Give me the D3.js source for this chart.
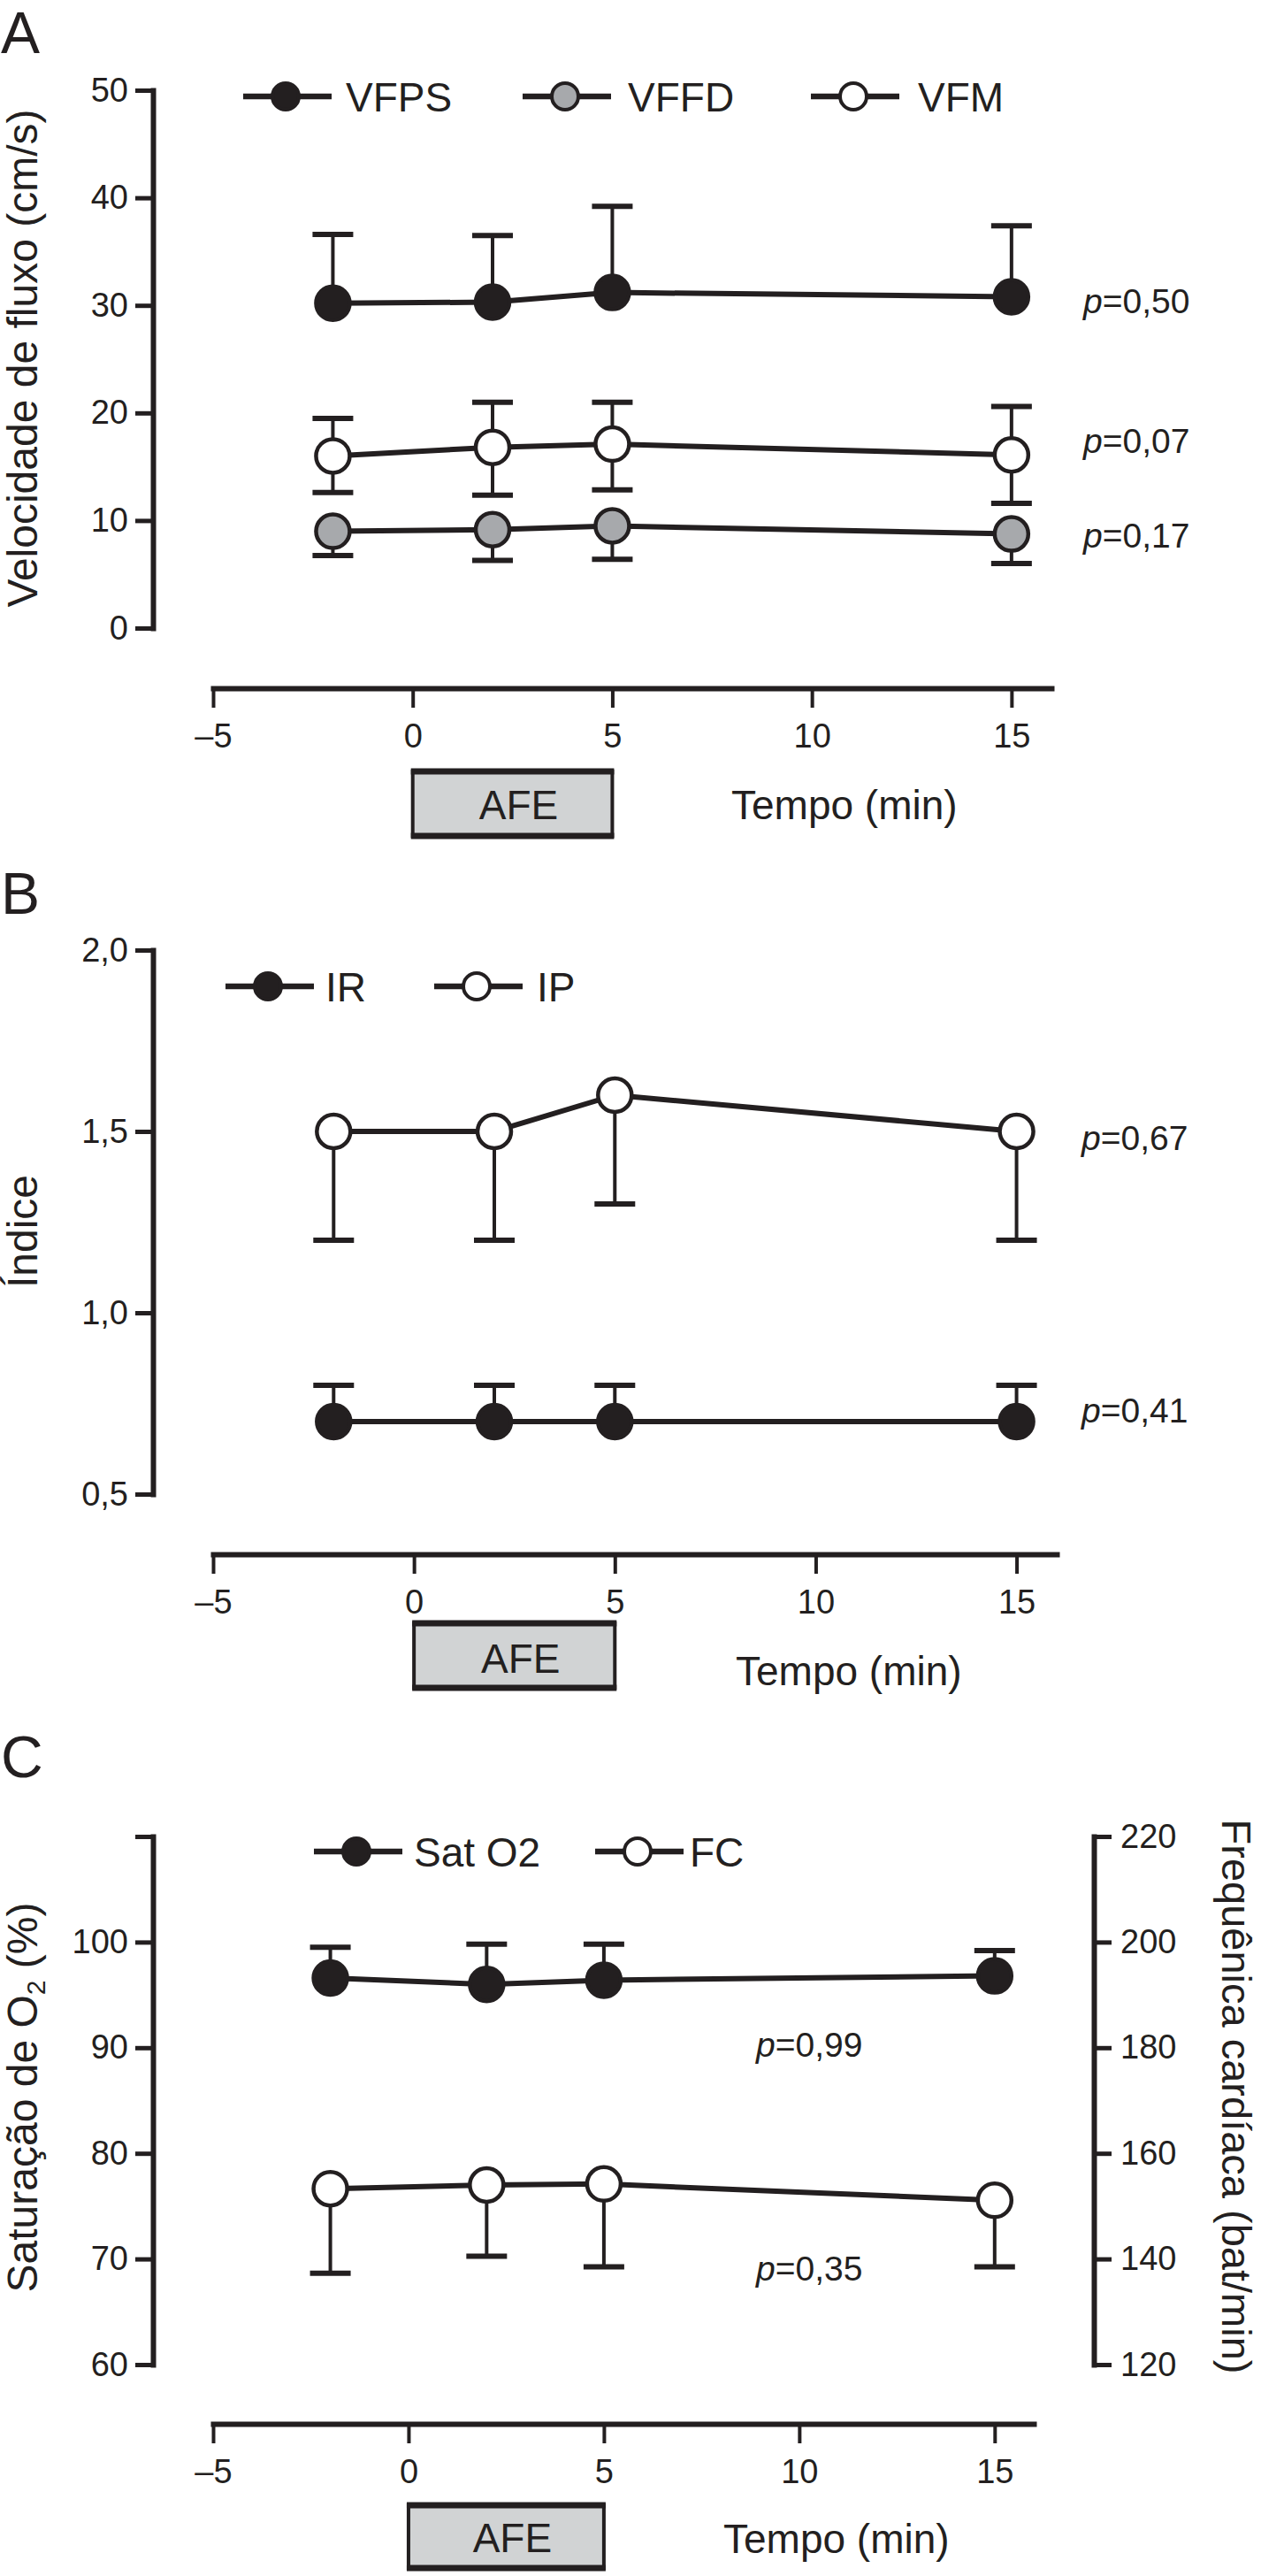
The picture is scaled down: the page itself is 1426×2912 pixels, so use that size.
<!DOCTYPE html>
<html>
<head>
<meta charset="utf-8">
<script src="https://cdn.jsdelivr.net/npm/d3@7/dist/d3.min.js"></script>
<style>
  html, body { margin: 0; padding: 0; background: #fff; }
  svg { display: block; }
  text { font-family: "Liberation Sans", Arial, Helvetica, sans-serif; fill: #231f20; }
</style>
</head>
<body>
<svg id="chart" width="1426" height="2912"></svg>
<script>
// ---------------- DATA ----------------
const times = [-2, 2, 5, 15];
const xTicks = [-5, 0, 5, 10, 15];

// Panel A: flow velocities (cm/s)
const vfps = [30.2, 30.3, 31.2, 30.8];
const vfpsUpper = [36.6, 36.5, 39.2, 37.4];
const vfm = [16.0, 16.8, 17.1, 16.1];
const vfmUpper = [19.5, 21.0, 21.0, 20.6];
const vfmLower = [12.6, 12.35, 12.85, 11.6];
const vffd = [9.0, 9.15, 9.5, 8.75];
const vffdLower = [6.75, 6.3, 6.4, 6.0];
const yTicksA = [0, 10, 20, 30, 40, 50];
const pValuesA = ["0,50", "0,07", "0,17"];

// Panel B: indices
const ip = [1.50, 1.50, 1.60, 1.50];
const ipLower = [1.20, 1.20, 1.30, 1.20];
const ir = [0.70, 0.70, 0.70, 0.70];
const irUpper = [0.80, 0.80, 0.80, 0.80];
const yTicksB = [0.5, 1.0, 1.5, 2.0];
const pValuesB = ["0,67", "0,41"];

// Panel C: O2 saturation (%) and heart rate (bat/min)
const satO2 = [96.6, 96.0, 96.4, 96.8];
const satO2Upper = [99.5, 99.8, 99.8, 99.2];
const fc = [153.3, 154.0, 154.2, 151.1];
const fcLower = [137.3, 140.5, 138.5, 138.5];
const yTicksCL = [60, 70, 80, 90, 100, 110];
const yTicksCR = [120, 140, 160, 180, 200, 220];
const pValuesC = ["0,99", "0,35"];

// ---------------- HELPERS ----------------
const INK = "#231f20";
const GRAY = "#a7a9ac";
const BOXFILL = "#d1d3d4";
const svg = d3.select("#chart");
const br = d3.formatLocale({decimal: ",", thousands: ".", grouping: [3], currency: ["R$", ""]});
const fmt1 = br.format(".1f");

function styleAxis(g, fontSize) {
  g.select(".domain").attr("stroke", INK).attr("stroke-width", 6).attr("stroke-linecap", "square");
  g.selectAll(".tick line").attr("stroke", INK).attr("stroke-width", 5);
  g.selectAll(".tick text").attr("font-size", fontSize).attr("fill", INK)
    .style("font-family", '"Liberation Sans", Arial, sans-serif');
}

function xAxis(x, yPos) {
  const g = svg.append("g").attr("transform", `translate(0,${yPos})`)
    .call(d3.axisBottom(x).tickValues(xTicks).tickSize(22).tickSizeOuter(0).tickPadding(18)
      .tickFormat(d => d < 0 ? "\u2013" + Math.abs(d) : String(d)));
  styleAxis(g, 38);
  g.selectAll(".tick line").attr("stroke-width", 4);
}

function yAxisLeft(y, xPos, ticks, format) {
  const g = svg.append("g").attr("transform", `translate(${xPos},0)`)
    .call(d3.axisLeft(y).tickValues(ticks).tickSize(20).tickSizeOuter(0).tickPadding(8).tickFormat(format));
  styleAxis(g, 38);
}

function yAxisRight(y, xPos, ticks, format) {
  const g = svg.append("g").attr("transform", `translate(${xPos},0)`)
    .call(d3.axisRight(y).tickValues(ticks).tickSize(20).tickSizeOuter(0).tickPadding(10).tickFormat(format));
  styleAxis(g, 38);
}

function errorBars(x, y, vals, ends) {
  const g = svg.append("g");
  times.forEach((t, i) => {
    g.append("line").attr("x1", x(t)).attr("x2", x(t)).attr("y1", y(vals[i])).attr("y2", y(ends[i]))
      .attr("stroke", INK).attr("stroke-width", 4);
    g.append("line").attr("x1", x(t) - 23).attr("x2", x(t) + 23).attr("y1", y(ends[i])).attr("y2", y(ends[i]))
      .attr("stroke", INK).attr("stroke-width", 6);
  });
}

function series(x, y, vals, fill) {
  const line = d3.line().x((d, i) => x(times[i])).y(d => y(d));
  svg.append("path").datum(vals).attr("d", line).attr("fill", "none")
    .attr("stroke", INK).attr("stroke-width", 6).attr("stroke-linejoin", "round");
  svg.append("g").selectAll("circle").data(vals).join("circle")
    .attr("cx", (d, i) => x(times[i])).attr("cy", d => y(d)).attr("r", 19)
    .attr("fill", fill).attr("stroke", INK).attr("stroke-width", 4.5);
}

function legendItem(x0, yRow, fill, label, textX, fontSize) {
  svg.append("line").attr("x1", x0).attr("x2", x0 + 100).attr("y1", yRow).attr("y2", yRow)
    .attr("stroke", INK).attr("stroke-width", 6.5);
  svg.append("circle").attr("cx", x0 + 48).attr("cy", yRow).attr("r", 15)
    .attr("fill", fill).attr("stroke", INK).attr("stroke-width", 4);
  svg.append("text").attr("x", textX).attr("y", yRow).attr("dy", "0.36em")
    .attr("font-size", fontSize).text(label);
}

function pLabel(xPos, yPos, value, fontSize) {
  const t = svg.append("text").attr("x", xPos).attr("y", yPos).attr("font-size", fontSize);
  t.append("tspan").attr("font-style", "italic").text("p");
  t.append("tspan").text("=" + value);
}

function afeBox(x, top, bottom, textBase, tempoX, tempoBase) {
  const x0 = x(0), x1 = x(5);
  svg.append("rect").attr("x", x0).attr("y", top).attr("width", x1 - x0).attr("height", bottom - top)
    .attr("fill", BOXFILL).attr("stroke", INK).attr("stroke-width", 4);
  [top, bottom].forEach(yy => svg.append("line").attr("x1", x0 - 2).attr("x2", x1 + 2).attr("y1", yy).attr("y2", yy)
    .attr("stroke", INK).attr("stroke-width", 7));
  svg.append("text").attr("x", (x0 + x1) / 2 + 7).attr("y", textBase).attr("text-anchor", "middle")
    .attr("font-size", 46).text("AFE");
  svg.append("text").attr("x", tempoX).attr("y", tempoBase).attr("font-size", 46).text("Tempo (min)");
}

function panelLetter(letter, yBase) {
  svg.append("text").attr("x", 1).attr("y", yBase).attr("font-size", 66).text(letter);
}

function rotLabel(xPos, yPos, angle, build, size) {
  const t = svg.append("text").attr("transform", `translate(${xPos},${yPos}) rotate(${angle})`)
    .attr("text-anchor", "middle").attr("font-size", size || 48);
  build(t);
}

// ---------------- PANEL A ----------------
const xA = d3.scaleLinear().domain([-5, 16]).range([241, 1189]);
const yA = d3.scaleLinear().domain([0, 50]).range([710, 102]);
panelLetter("A", 60);
yAxisLeft(yA, 173, yTicksA, d3.format("d"));
xAxis(xA, 778);
rotLabel(42, 405, -90, t => t.text("Velocidade de fluxo (cm/s)"));

errorBars(xA, yA, vfps, vfpsUpper);
errorBars(xA, yA, vfm, vfmUpper);
errorBars(xA, yA, vfm, vfmLower);
errorBars(xA, yA, vffd, vffdLower);
series(xA, yA, vfps, INK);
series(xA, yA, vfm, "#fff");
series(xA, yA, vffd, GRAY);

legendItem(275, 109, INK, "VFPS", 391, 46);
legendItem(591, 109, GRAY, "VFFD", 710, 46);
legendItem(917, 109, "#fff", "VFM", 1038, 46);

pLabel(1225, 354, pValuesA[0], 39);
pLabel(1225, 512, pValuesA[1], 39);
pLabel(1225, 619, pValuesA[2], 39);
afeBox(xA, 872, 945, 926, 827, 926);

// ---------------- PANEL B ----------------
const xB = d3.scaleLinear().domain([-5, 16]).range([241, 1195]);
const yB = d3.scaleLinear().domain([0.5, 2.0]).range([1689, 1074]);
panelLetter("B", 1033);
yAxisLeft(yB, 173, yTicksB, fmt1);
xAxis(xB, 1757);
rotLabel(42, 1392, -90, t => t.text("Índice"));

errorBars(xB, yB, ip, ipLower);
errorBars(xB, yB, ir, irUpper);
series(xB, yB, ip, "#fff");
series(xB, yB, ir, INK);

legendItem(255, 1115, INK, "IR", 368, 46);
legendItem(491, 1115, "#fff", "IP", 607, 46);

pLabel(1223, 1300, pValuesB[0], 39);
pLabel(1223, 1608, pValuesB[1], 39);
afeBox(xB, 1835, 1908, 1891, 832, 1905);

// ---------------- PANEL C ----------------
const xC = d3.scaleLinear().domain([-5, 16]).range([241, 1169]);
const yCL = d3.scaleLinear().domain([60, 110]).range([2673, 2076]);
const yCR = d3.scaleLinear().domain([120, 220]).range([2673, 2076]);
panelLetter("C", 2009);
yAxisLeft(yCL, 173, yTicksCL, d => d === 110 ? "" : String(d));
yAxisRight(yCR, 1237, yTicksCR, d3.format("d"));
xAxis(xC, 2740);
rotLabel(42, 2371, -90, t => {
  t.append("tspan").text("Saturação de O");
  t.append("tspan").attr("font-size", 30).attr("dy", 9).text("2");
  t.append("tspan").attr("dy", -9).text(" (%)");
});
rotLabel(1382, 2370, 90, t => t.text("Frequênica cardíaca (bat/min)"), 47);

errorBars(xC, yCL, satO2, satO2Upper);
errorBars(xC, yCR, fc, fcLower);
series(xC, yCL, satO2, INK);
series(xC, yCR, fc, "#fff");

legendItem(355, 2093, INK, "Sat O2", 468, 46);
legendItem(673, 2093, "#fff", "FC", 780, 46);

pLabel(855, 2325, pValuesC[0], 39);
pLabel(855, 2578, pValuesC[1], 39);
afeBox(xC, 2832, 2903, 2885, 818, 2886);
</script>
</body>
</html>
